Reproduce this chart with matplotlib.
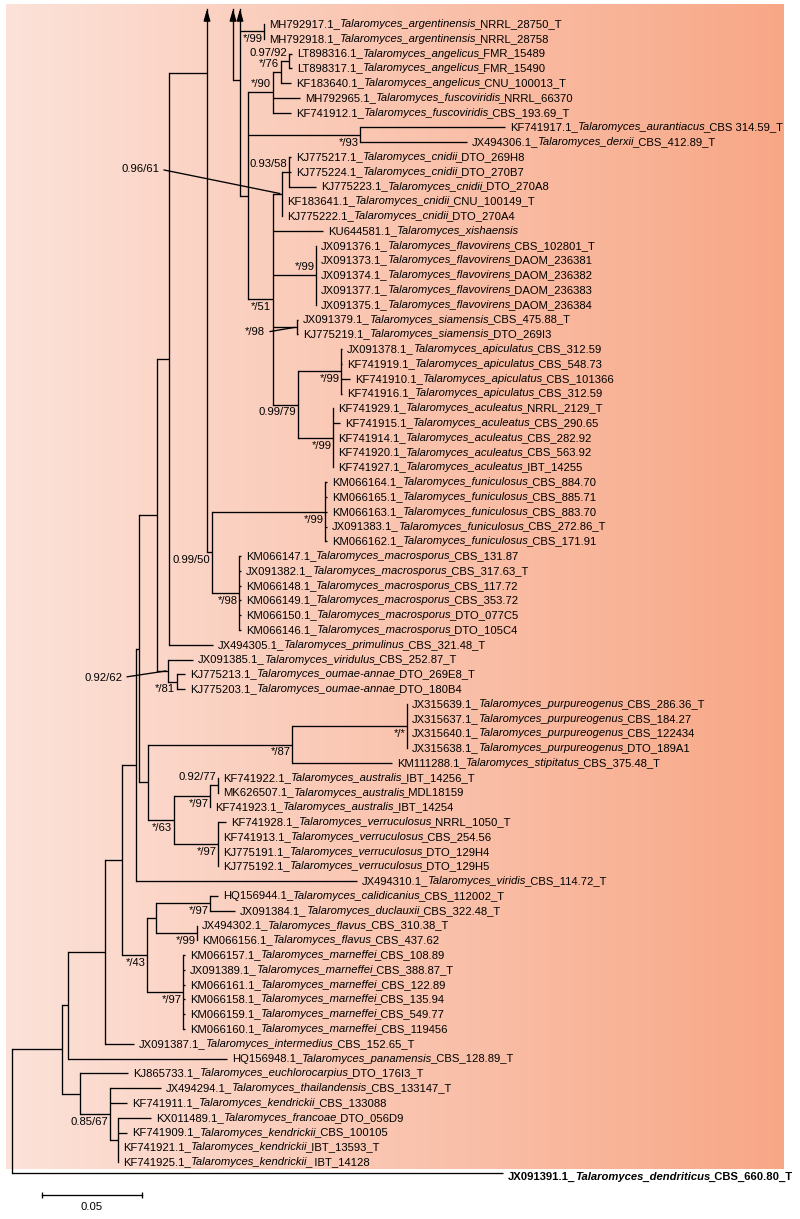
import numpy as np
import matplotlib.pyplot as plt

plt.rcParams['font.family'] = ['Liberation Sans', 'DejaVu Sans']

### Talaromyces phylogeny (BI/ML support), newick pieces with branch lengths
# support label suffix: @a = above branch, @b = below branch, @l = with leader line
# "^" marks a branch that leaves the top of the drawing (drawn as arrow)

argentinensis = ("(MH792917.1_Talaromyces_argentinensis_NRRL_28750_T:0,"
                 "MH792918.1_Talaromyces_argentinensis_NRRL_28758:0)*/99@b:0.012")
angelicus = ("((LT898316.1_Talaromyces_angelicus_FMR_15489:0.0015,"
             "LT898317.1_Talaromyces_angelicus_FMR_15490:0.0015)0.97/92@a:0.004,"
             "KF183640.1_Talaromyces_angelicus_CNU_100013_T:0.005)*/76@a:0.004")
fuscoviridis = ("(" + angelicus + ",MH792965.1_Talaromyces_fuscoviridis_NRRL_66370:0.0135,"
                "KF741912.1_Talaromyces_fuscoviridis_CBS_193.69_T:0.009)*/90@a:0.0125")
aurantiacus = ("(KF741917.1_Talaromyces_aurantiacus_CBS 314.59_T:0.0725,"
               "JX494306.1_Talaromyces_derxii_CBS_412.89_T:0.0535)*/93@b:0.056")
cnidii = ("((KJ775217.1_Talaromyces_cnidii_DTO_269H8:0.001,KJ775224.1_Talaromyces_cnidii_DTO_270B7:0.001,"
          "KJ775223.1_Talaromyces_cnidii_DTO_270A8:0.0135)0.93/58@a:0.0035,"
          "KF183641.1_Talaromyces_cnidii_CNU_100149_T:0,KJ775222.1_Talaromyces_cnidii_DTO_270A4:0)0.96/61@l:0.0045")
flavovirens = ("(JX091376.1_Talaromyces_flavovirens_CBS_102801_T:0,JX091373.1_Talaromyces_flavovirens_DAOM_236381:0,"
               "JX091374.1_Talaromyces_flavovirens_DAOM_236382:0,JX091377.1_Talaromyces_flavovirens_DAOM_236383:0,"
               "JX091375.1_Talaromyces_flavovirens_DAOM_236384:0)*/99@a:0.0215")
siamensis = ("(JX091379.1_Talaromyces_siamensis_CBS_475.88_T:0.0005,"
             "KJ775219.1_Talaromyces_siamensis_DTO_269I3:0.0005)*/98@l:0.012")
apiculatus = ("(JX091378.1_Talaromyces_apiculatus_CBS_312.59:0.0005,KF741919.1_Talaromyces_apiculatus_CBS_548.73:0.0005,"
              "KF741910.1_Talaromyces_apiculatus_CBS_101366:0.0045,KF741916.1_Talaromyces_apiculatus_CBS_312.59:0.0005)*/99@b:0.0215")
aculeatus = ("(KF741929.1_Talaromyces_aculeatus_NRRL_2129_T:0,KF741915.1_Talaromyces_aculeatus_CBS_290.65:0.0035,"
             "KF741914.1_Talaromyces_aculeatus_CBS_282.92:0,KF741920.1_Talaromyces_aculeatus_CBS_563.92:0,"
             "KF741927.1_Talaromyces_aculeatus_IBT_14255:0)*/99@b:0.0175")
funiculosus = ("(KM066164.1_Talaromyces_funiculosus_CBS_884.70:0.001,KM066165.1_Talaromyces_funiculosus_CBS_885.71:0.001,"
               "KM066163.1_Talaromyces_funiculosus_CBS_883.70:0.001,JX091383.1_Talaromyces_funiculosus_CBS_272.86_T:0.001,"
               "KM066162.1_Talaromyces_funiculosus_CBS_171.91:0.001)*/99@b:0.0565")
macrosporus = ("(KM066147.1_Talaromyces_macrosporus_CBS_131.87:0.001,JX091382.1_Talaromyces_macrosporus_CBS_317.63_T:0.001,"
               "KM066148.1_Talaromyces_macrosporus_CBS_117.72:0.001,KM066149.1_Talaromyces_macrosporus_CBS_353.72:0.001,"
               "KM066150.1_Talaromyces_macrosporus_DTO_077C5:0.001,KM066146.1_Talaromyces_macrosporus_DTO_105C4:0.001)*/98@b:0.0135")
oumae = ("(KJ775213.1_Talaromyces_oumae-annae_DTO_269E8_T:0.004,"
         "KJ775203.1_Talaromyces_oumae-annae_DTO_180B4:0.004)*/81@b:0.0045")
purpureogenus = ("(JX315639.1_Talaromyces_purpureogenus_CBS_286.36_T:0,JX315637.1_Talaromyces_purpureogenus_CBS_184.27:0,"
                 "JX315640.1_Talaromyces_purpureogenus_CBS_122434:0,JX315638.1_Talaromyces_purpureogenus_DTO_189A1:0)*/*@b:0.0575")
australis = ("((KF741922.1_Talaromyces_australis_IBT_14256_T:0,MK626507.1_Talaromyces_australis_MDL18159:0)0.92/77@a:0.004,"
             "KF741923.1_Talaromyces_australis_IBT_14254:0)*/97@b:0.018")
verruculosus = ("(KF741928.1_Talaromyces_verruculosus_NRRL_1050_T:0.004,KF741913.1_Talaromyces_verruculosus_CBS_254.56:0,"
                "KJ775191.1_Talaromyces_verruculosus_DTO_129H4:0,KJ775192.1_Talaromyces_verruculosus_DTO_129H5:0)*/97@b:0.022")
calidicanius = ("(HQ156944.1_Talaromyces_calidicanius_CBS_112002_T:0.004,"
                "JX091384.1_Talaromyces_duclauxii_CBS_322.48_T:0.0125)*/97@b:0.027")
flavus = ("(JX494302.1_Talaromyces_flavus_CBS_310.38_T:0,KM066156.1_Talaromyces_flavus_CBS_437.62:0)*/99@b:0.0205")
marneffei = ("(KM066157.1_Talaromyces_marneffei_CBS_108.89:0.001,JX091389.1_Talaromyces_marneffei_CBS_388.87_T:0.001,"
             "KM066161.1_Talaromyces_marneffei_CBS_122.89:0.001,KM066158.1_Talaromyces_marneffei_CBS_135.94:0.001,"
             "KM066159.1_Talaromyces_marneffei_CBS_549.77:0.001,KM066160.1_Talaromyces_marneffei_CBS_119456:0.001)*/97@b:0.018")
kendrickii = ("(KJ865733.1_Talaromyces_euchlorocarpius_DTO_176I3_T:0.024,"
              "(JX494294.1_Talaromyces_thailandensis_CBS_133147_T:0.0255,KF741911.1_Talaromyces_kendrickii_CBS_133088:0.0085,"
              "(KX011489.1_Talaromyces_francoae_DTO_056D9:0.0165,KF741909.1_Talaromyces_kendrickii_CBS_100105:0.0045,"
              "KF741921.1_Talaromyces_kendrickii_IBT_13593_T:0,KF741925.1_Talaromyces_kendrickii_ IBT_14128:0):0.004"
              ")0.85/67@b:0.015):0.009")
outgroup = "JX091391.1_Talaromyces_dendriticus_CBS_660.80_T"

upper = ("((^:0.005,(^:0.005," + argentinensis + ",(" + fuscoviridis + "," + aurantiacus + ",("
         + cnidii + ",KU644581.1_Talaromyces_xishaensis:0.025," + flavovirens + "," + siamensis + ",("
         + apiculatus + "," + aculeatus + ")0.99/79@b:0.0125)*/51@b:0.0125):0.004):0.0035):0.013,("
         + funiculosus + "," + macrosporus + ")0.99/50@b:0.0025):0.019")
middle = ("(((" + upper + ",JX494305.1_Talaromyces_primulinus_CBS_321.48_T:0.022):0.006,"
          "(JX091385.1_Talaromyces_viridulus_CBS_252.87_T:0.0125," + oumae + ")0.92/62@l:0.0055):0.009,"
          "((" + purpureogenus + ",KM111288.1_Talaromyces_stipitatus_CBS_375.48_T:0.05)*/87@b:0.072,("
          + australis + "," + verruculosus + ")*/63@b:0.013):0.0045):0.0015")
lower = ("((" + middle + ",JX494310.1_Talaromyces_viridis_CBS_114.72_T:0.1105):0.007,"
         "((" + calidicanius + "," + flavus + "):0.0045," + marneffei + ")*/43@b:0.0125):0.0085")
tree_newick = ("((((" + lower + ",JX091387.1_Talaromyces_intermedius_CBS_152.65_T:0.0145):0.0185,"
               "HQ156948.1_Talaromyces_panamensis_CBS_128.89_T:0.0795):0.003," + kendrickii + "):0.025,"
               + outgroup + ":0.2455);")

offscreen_slots = [-62, -4]    # leaf rows of the branches cut at the top
outgroup_gap = 0.75             # outgroup row sits closer than a full row
scale_len = 0.05

# layout (pixels of the 800x1219 picture)
W, H = 800, 1219
root_px = 12
px_per_unit = 2000.0
row0_px = 24
px_per_row = 14.78
fs = 8.1
lw = 0.95
leader_offsets = [(-88.5, 18), (-23, -3.9), (-33, -5)]   # points, for @l labels


def parse_newick(s):
    pos = 0

    def read_node():
        nonlocal pos
        children = []
        if s[pos] == '(':
            pos += 1
            children.append(read_node())
            while s[pos] == ',':
                pos += 1
                children.append(read_node())
            pos += 1
        start = pos
        while s[pos] not in ',():;':
            pos += 1
        label = s[start:pos]
        length = 0.0
        if s[pos] == ':':
            pos += 1
            start = pos
            while s[pos] not in ',();':
                pos += 1
            length = float(s[start:pos])
        return {'label': label, 'len': length, 'children': children}

    return read_node()


state = {'row': 0, 'ghost': 0, 'leader': 0}


def layout(node, x_parent):
    node['x'] = x_parent + node['len']
    if node['children']:
        for c in node['children']:
            layout(c, node['x'])
        node['y'] = (node['children'][0]['y'] + node['children'][-1]['y']) / 2
    elif node['label'] == '^':
        node['y'] = offscreen_slots[state['ghost']]
        state['ghost'] += 1
    elif node['label'] == outgroup:
        node['y'] = state['row'] - 1 + outgroup_gap
    else:
        node['y'] = state['row']
        state['row'] += 1


def leaf_label(ax, node):
    bold = node['label'] == outgroup
    weight = 'bold' if bold else 'normal'
    bits = node['label'].split('_')
    # accession, italic binomial, then strain
    parts = [(bits[0] + '_', 'normal', 0), (bits[1] + '_' + bits[2], 'italic', 0)]
    if len(bits) > 3:
        parts.append(('_' + '_'.join(bits[3:]), 'normal', -1.8))
    dy = -2.5 if bold else 0
    t = ax.annotate(parts[0][0], xy=(node['x'], node['y']), xytext=(3.6, dy),
                    textcoords='offset points', ha='left', va='center',
                    fontsize=fs, fontweight=weight)
    for txt, style, shift in parts[1:]:
        t = ax.annotate(txt, xy=(1, 0), xycoords=t, xytext=(shift, 0),
                        textcoords='offset points', ha='left', va='bottom',
                        fontsize=fs, fontstyle=style, fontweight=weight)


def support_label(ax, node):
    txt, side = node['label'].split('@')
    if side == 'l':
        dx, dy = leader_offsets[state['leader']]
        state['leader'] += 1
        ax.annotate(txt, xy=(node['x'], node['y']), xytext=(dx, dy),
                    textcoords='offset points', ha='right', va='center', fontsize=fs,
                    arrowprops=dict(arrowstyle='-', lw=lw, color='black',
                                    relpos=(1, 0.5), shrinkA=1.5, shrinkB=1.5))
    else:
        dy = 5.8 if side == 'a' else -5.6
        ax.annotate(txt, xy=(node['x'], node['y']), xytext=(-1.2, dy),
                    textcoords='offset points', ha='right', va='center', fontsize=fs)


def draw(ax, node, arrow_top):
    ch = node['children']
    if not ch:
        if node['label'] != '^':
            leaf_label(ax, node)
        return
    ys = [c['y'] for c in ch]
    top, bottom = min(ys), max(ys)
    if top < arrow_top:
        ax.plot([node['x'], node['x']], [arrow_top, bottom], c='black', lw=lw)
        ax.annotate('', xy=(node['x'], arrow_top), xytext=(node['x'], arrow_top + 0.6),
                    arrowprops=dict(arrowstyle='-|>,head_length=0.7,head_width=0.2',
                                    color='black', lw=lw, shrinkA=0, shrinkB=0))
    else:
        ax.plot([node['x'], node['x']], [top, bottom], c='black', lw=lw)
    for c in ch:
        if c['label'] == '^':
            continue
        ax.plot([node['x'], c['x']], [c['y'], c['y']], c='black', lw=lw,
                solid_capstyle='butt')
        draw(ax, c, arrow_top)
    if '@' in node['label']:
        support_label(ax, node)


tree = parse_newick(tree_newick)
layout(tree, 0.0)

fig = plt.figure(figsize=(W / 100, H / 100), dpi=100)

# shaded panel behind the ingroup
bg = fig.add_axes([6 / W, 1 - 1169 / H, 778 / W, 1165 / H])
left_c = np.array([252, 226, 217]) / 255
right_c = np.array([248, 167, 134]) / 255
ramp = np.linspace(0, 1, 400)[:, None]
bg.imshow((left_c + (right_c - left_c) * ramp)[None, :, :], aspect='auto', extent=(0, 1, 0, 1))
bg.set_axis_off()

ax = fig.add_axes([0, 0, 1, 1], facecolor='none')
ax.set_xlim(-root_px / px_per_unit, (W - root_px) / px_per_unit)
ax.set_ylim((H - row0_px) / px_per_row, -row0_px / px_per_row)
ax.set_axis_off()

arrow_top = (9 - row0_px) / px_per_row
draw(ax, tree, arrow_top)

# scale bar
sx0 = (42 - root_px) / px_per_unit
sy = (1195 - row0_px) / px_per_row
ax.plot([sx0, sx0 + scale_len], [sy, sy], c='black', lw=lw, marker='|', ms=4.5, mew=lw)
ax.text(sx0 + scale_len / 2, (1207 - row0_px) / px_per_row, str(scale_len),
        ha='center', va='center', fontsize=fs)

plt.savefig('out.png', dpi=100)
